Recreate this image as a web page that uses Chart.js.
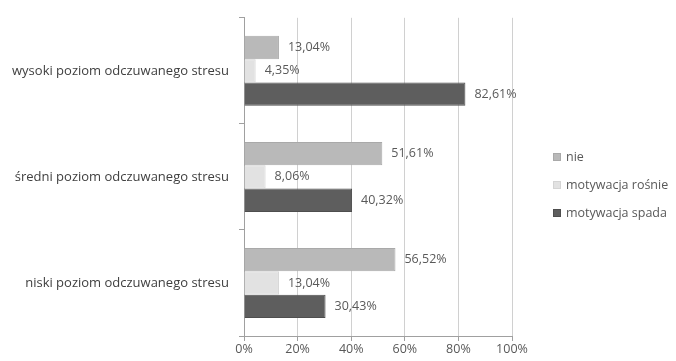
<!DOCTYPE html>
<html>
<head>
<meta charset="utf-8">
<script src="https://cdn.jsdelivr.net/npm/chart.js@4/dist/chart.umd.min.js"></script>
<style>
  html, body { margin: 0; padding: 0; background: #fff; }
  #wrap { width: 676px; height: 361px; }
</style>
</head>
<body>
<div id="wrap"><canvas id="myChart" width="676" height="361"></canvas></div>
<script>
// Data
var categories = ["wysoki poziom odczuwanego stresu", "średni poziom odczuwanego stresu", "niski poziom odczuwanego stresu"];
var seriesNames = ["nie", "motywacja rośnie", "motywacja spada"];
var nie = [13.04, 51.61, 56.52];
var rosnie = [4.35, 8.06, 13.04];
var spada = [82.61, 40.32, 30.43];
var tickLabels = ["0%", "20%", "40%", "60%", "80%", "100%"];

var fontFamily = "'Open Sans', 'Noto Sans', sans-serif";
var textColor = '#595959';

function fmt(v) {
  return v.toFixed(2).replace('.', ',') + '%';
}

// Value labels next to each bar end
var valueLabels = {
  id: 'valueLabels',
  afterDatasetsDraw: function(chart) {
    var ctx = chart.ctx;
    ctx.save();
    ctx.font = '12.5px ' + fontFamily;
    ctx.fillStyle = textColor;
    ctx.textBaseline = 'middle';
    ctx.textAlign = 'left';
    chart.data.datasets.forEach(function(ds, i) {
      chart.getDatasetMeta(i).data.forEach(function(bar, j) {
        ctx.fillText(fmt(ds.data[j]), bar.x + 9, bar.y);
      });
    });
    ctx.restore();
  }
};

// Legend drawn at the right, like the original
var sideLegend = {
  id: 'sideLegend',
  afterDraw: function(chart) {
    var ctx = chart.ctx;
    var x = 553, y = 157, step = 28;
    ctx.save();
    ctx.font = '12.5px ' + fontFamily;
    ctx.textBaseline = 'middle';
    ctx.textAlign = 'left';
    chart.data.datasets.forEach(function(ds, i) {
      var yy = y + i * step;
      ctx.fillStyle = ds.backgroundColor;
      ctx.fillRect(x, yy - 4, 8, 8);
      ctx.strokeStyle = ds.borderColor;
      ctx.lineWidth = 1;
      ctx.strokeRect(x + 0.5, yy - 3.5, 7, 7);
      ctx.fillStyle = textColor;
      ctx.fillText(ds.label, x + 13, yy);
    });
    ctx.restore();
  }
};

var ctx = document.getElementById("myChart");
var myBarChart = new Chart(ctx, {
  type: 'bar',
  data: {
    labels: categories,
    datasets: [
      { label: seriesNames[0], data: nie, backgroundColor: '#b9b9b9', borderColor: '#a9a9a9', borderWidth: 1 },
      { label: seriesNames[1], data: rosnie, backgroundColor: '#e2e2e2', borderColor: '#d4d4d4', borderWidth: 1 },
      { label: seriesNames[2], data: spada, backgroundColor: '#5e5e5e', borderColor: '#4e4e4e', borderWidth: 1 }
    ]
  },
  options: {
    indexAxis: 'y',
    responsive: false,
    animation: false,
    layout: { padding: { top: 14, right: 164, bottom: 0, left: 0 } },
    datasets: { bar: { categoryPercentage: 0.66, barPercentage: 1 } },
    plugins: {
      legend: { display: false },
      tooltip: { enabled: false }
    },
    scales: {
      x: {
        min: 0,
        max: 100,
        ticks: {
          stepSize: 20,
          color: textColor,
          font: { family: fontFamily, size: 12.5 },
          padding: 1,
          callback: function(v, i) { return tickLabels[i]; }
        },
        grid: { color: '#d0d0d0', tickLength: 5, tickColor: '#a0a0a0' },
        border: { color: '#a0a0a0' },
        afterFit: function(scale) { scale.height = 25; }
      },
      y: {
        ticks: {
          color: '#404040',
          font: { family: fontFamily, size: 13 },
          padding: 10
        },
        grid: { drawOnChartArea: false, offset: true, tickLength: 5, color: '#a0a0a0' },
        border: { color: '#a0a0a0' },
        afterFit: function(scale) { scale.width = 244; }
      }
    }
  },
  plugins: [valueLabels, sideLegend]
});
</script>
</body>
</html>
